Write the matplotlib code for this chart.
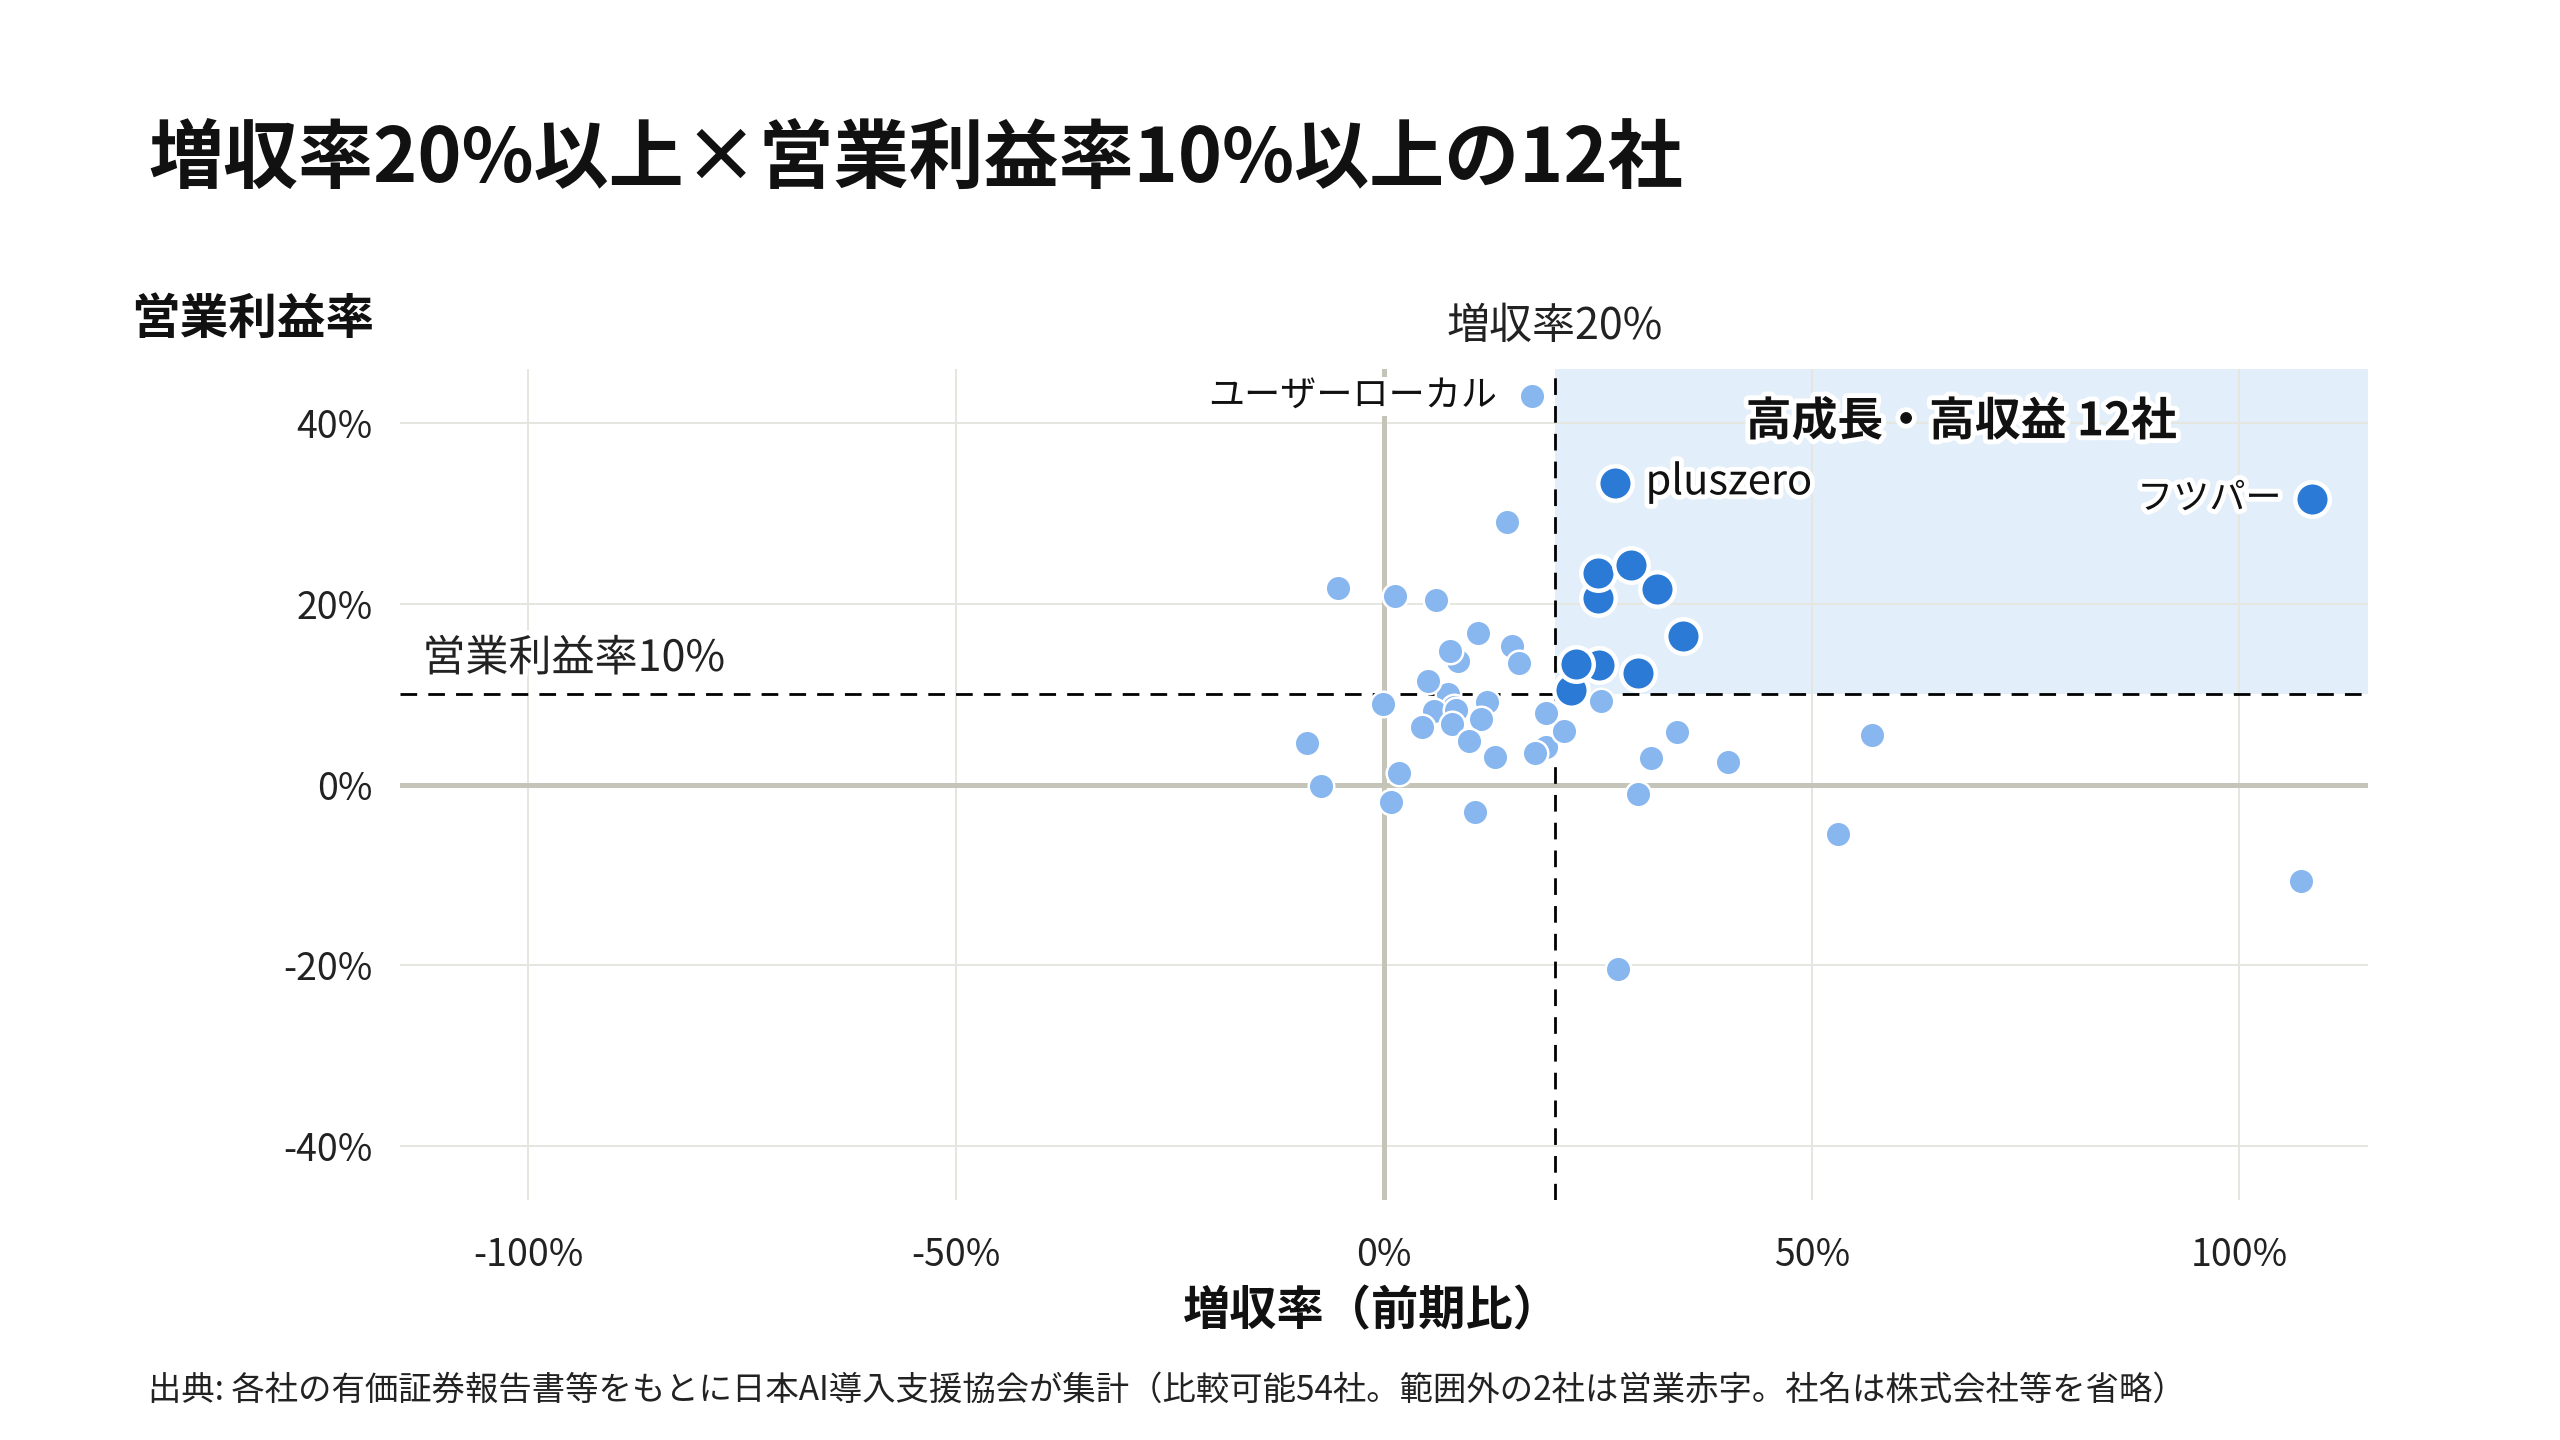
import matplotlib
matplotlib.use('Agg')
import matplotlib.pyplot as plt
import matplotlib.patheffects as pe
from matplotlib.ticker import FuncFormatter

plt.rcParams['font.family'] = ['Noto Sans CJK JP', 'DejaVu Sans']

# highlighted 12 companies (growth >= 20%, operating margin >= 10%)
top_growth = [22.6, 21.9, 25.1, 22.4, 29.7, 34.9, 25.0, 31.9, 25.0, 28.9, 27.0, 108.5]
top_margin = [13.1, 10.5, 13.2, 13.3, 12.4, 16.4, 20.7, 21.7, 23.4, 24.3, 33.4, 31.6]

# the rest of the comparable companies
other_growth = [17.3, 14.4, -5.4, 1.3, 6.1, 11.0, 8.7, 7.7, 15.0, 15.8,
                7.5, 5.2, -0.1, 12.1, 8.2, 5.8, 8.4, 8.0, 11.4, 4.4,
                10.0, 13.0, 19.0, 17.6, 21.1, 19.0, 25.4, -9.0, 34.3, 31.2,
                40.2, 1.8, -7.4, 0.8, 10.6, 29.7, 27.4, 57.0, 53.1, 107.2]
other_margin = [43.0, 29.1, 21.8, 20.9, 20.4, 16.8, 13.7, 14.8, 15.3, 13.5,
                10.0, 11.5, 8.9, 9.1, 8.6, 8.1, 8.3, 6.7, 7.2, 6.4,
                4.8, 3.1, 4.1, 3.5, 5.9, 7.9, 9.3, 4.6, 5.8, 2.9,
                2.5, 1.3, -0.2, -1.9, -3.0, -1.1, -20.4, 5.5, -5.5, -10.7]

x_ticks = [-100, -50, 0, 50, 100]
y_ticks = [-40, -20, 0, 20, 40]
growth_line = 20
margin_line = 10
x_range = (-115, 115)
y_range = (-46, 46)

light_blue = '#88b6ee'
dark_blue = '#2b7ad6'
zone_blue = '#e2eef9'
axis_grey = '#c4c4b8'
halo = [pe.withStroke(linewidth=7, foreground='white')]

fig = plt.figure(figsize=(25.6, 14.4), dpi=100)
ax = fig.add_axes([0.1563, 0.1667, 0.7686, 0.577])

ax.set_xlim(*x_range)
ax.set_ylim(*y_range)

# high growth / high profit zone
ax.fill_between([growth_line, x_range[1]], margin_line, y_range[1],
                color=zone_blue, lw=0, zorder=0)

ax.set_axisbelow(True)
ax.grid(True, color='#e6e6e0', lw=1.4)
ax.axhline(0, color=axis_grey, lw=3.6, zorder=1)
ax.axvline(0, color=axis_grey, lw=3.6, zorder=1)
ax.axhline(margin_line, color='black', lw=2.0, ls=(0, (6, 4)), zorder=2)
ax.axvline(growth_line, color='black', lw=2.0, ls=(0, (6, 4)), zorder=2)

ax.scatter(other_growth, other_margin, s=338, color=light_blue,
           edgecolor='white', linewidth=1.8, zorder=3)
ax.scatter(top_growth, top_margin, s=617, color=dark_blue,
           edgecolor='white', linewidth=3.2, zorder=4)

for s in ax.spines.values():
    s.set_visible(False)
ax.set_xticks(x_ticks)
ax.set_yticks(y_ticks)
pct = FuncFormatter(lambda v, p: f'{v:.0f}%')
ax.xaxis.set_major_formatter(pct)
ax.yaxis.set_major_formatter(pct)
ax.tick_params(axis='both', length=0, labelsize=27, colors='#222222')
ax.tick_params(axis='x', pad=26)
ax.tick_params(axis='y', pad=20)

# labels on the plot
ax.annotate('増収率20%', xy=(growth_line, 1), xycoords=('data', 'axes fraction'),
            xytext=(0, 30), textcoords='offset points', ha='center', va='center',
            fontsize=31, color='#222222')
ax.text(-112.4, 13.9, '営業利益率10%', ha='left', va='center', fontsize=31,
        color='#222222', path_effects=halo, zorder=5)
ax.text((growth_line + x_range[1]) / 2, 40.1, '高成長・高収益 12社', ha='center',
        va='center', fontsize=33, fontweight='bold', color='#111111',
        path_effects=halo, zorder=6)

ax.annotate('ユーザーローカル', xy=(other_growth[0], other_margin[0]),
            xytext=(-25, 0), textcoords='offset points', ha='right', va='center',
            fontsize=26, color='#111111',
            bbox=dict(facecolor='white', edgecolor='none', pad=1), zorder=5)
ax.annotate('pluszero', xy=(top_growth[10], top_margin[10]),
            xytext=(22, 0), textcoords='offset points', ha='left', va='center',
            fontsize=30, color='#111111', path_effects=halo, zorder=6)
ax.annotate('フツパー', xy=(top_growth[11], top_margin[11]),
            xytext=(-22, 0), textcoords='offset points', ha='right', va='center',
            fontsize=26, color='#111111', path_effects=halo, zorder=6)

fig.text(0.058, 0.889, '増収率20%以上×営業利益率10%以上の12社', fontsize=54,
         fontweight='bold', va='center', color='#111111')
fig.text(0.0512, 0.778, '営業利益率', fontsize=35, fontweight='bold',
         va='center', color='#111111')
fig.text(0.536, 0.0896, '増収率（前期比）', fontsize=34, fontweight='bold',
         ha='center', va='center', color='#111111')
fig.text(0.058, 0.0347, '出典: 各社の有価証券報告書等をもとに日本AI導入支援協会が集計'
         '（比較可能54社。範囲外の2社は営業赤字。社名は株式会社等を省略）',
         fontsize=24, va='center', color='#222222')

fig.savefig('out.png', dpi=100, facecolor='white')
